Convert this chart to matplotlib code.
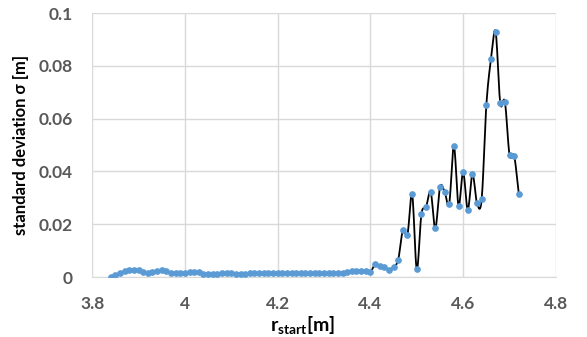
import numpy as np
import matplotlib
matplotlib.use("Agg")
import matplotlib.pyplot as plt

plt.rcParams['font.family'] = ['Lato', 'DejaVu Sans']
plt.rcParams['mathtext.fontset'] = 'custom'
plt.rcParams['mathtext.rm'] = 'Lato'
plt.rcParams['mathtext.bf'] = 'Lato:bold'

r_start = np.round(np.arange(3.84, 4.7201, 0.01), 2)

sigma = [
    0.0000, 0.0009, 0.0015, 0.0023, 0.0027, 0.0028, 0.0025, 0.0019, 0.0016, 0.0020,  # 3.84-3.93
    0.0024, 0.0025, 0.0022, 0.0016, 0.0014, 0.0014, 0.0015, 0.0018, 0.0020, 0.0018,  # 3.94-4.03
    0.0013, 0.0010, 0.0010, 0.0013, 0.0015, 0.0016, 0.0016, 0.0013, 0.0011, 0.0011,  # 4.04-4.13
    0.0014, 0.0014, 0.0014, 0.0014, 0.0014, 0.0015, 0.0016, 0.0016, 0.0016, 0.0016,  # 4.14-4.23
    0.0016, 0.0014, 0.0014, 0.0014, 0.0014, 0.0015, 0.0015, 0.0015, 0.0016, 0.0017,  # 4.24-4.33
    0.0017, 0.0018, 0.0024, 0.0024, 0.0023, 0.0022, 0.0018, 0.0048, 0.0042, 0.0037,  # 4.34-4.43
    0.0028, 0.0038, 0.0066, 0.0177, 0.0161, 0.0314, 0.0030, 0.0238, 0.0265, 0.0323,  # 4.44-4.53
    0.0184, 0.0341, 0.0324, 0.0278, 0.0498, 0.0271, 0.0397, 0.0255, 0.0390, 0.0279,  # 4.54-4.63
    0.0296, 0.0650, 0.0825, 0.0930, 0.0659, 0.0665, 0.0463, 0.0459, 0.0316,          # 4.64-4.72
]

x_ticks = [3.8, 4.0, 4.2, 4.4, 4.6, 4.8]
x_tick_labels = ['3.8', '4', '4.2', '4.4', '4.6', '4.8']
y_ticks = [0, 0.02, 0.04, 0.06, 0.08, 0.1]
y_tick_labels = ['0', '0.02', '0.04', '0.06', '0.08', '0.1']


def catmull_rom(x, y, n=12):
    x = np.asarray(x, float)
    y = np.asarray(y, float)
    px = np.concatenate([[2 * x[0] - x[1]], x, [2 * x[-1] - x[-2]]])
    py = np.concatenate([[2 * y[0] - y[1]], y, [2 * y[-1] - y[-2]]])
    xs, ys = [], []
    t = np.linspace(0, 1, n, endpoint=False)
    for i in range(1, len(px) - 2):
        p0, p1, p2, p3 = py[i - 1], py[i], py[i + 1], py[i + 2]
        q0, q1, q2, q3 = px[i - 1], px[i], px[i + 1], px[i + 2]
        t2, t3 = t * t, t * t * t
        ys.append(0.5 * ((2 * p1) + (-p0 + p2) * t + (2 * p0 - 5 * p1 + 4 * p2 - p3) * t2
                         + (-p0 + 3 * p1 - 3 * p2 + p3) * t3))
        xs.append(0.5 * ((2 * q1) + (-q0 + q2) * t + (2 * q0 - 5 * q1 + 4 * q2 - q3) * t2
                         + (-q0 + 3 * q1 - 3 * q2 + q3) * t3))
    xs.append([x[-1]])
    ys.append([y[-1]])
    return np.concatenate(xs), np.concatenate(ys)


fig = plt.figure(figsize=(5.87, 3.37), dpi=100)
ax = fig.add_axes([0.157, 0.178, 0.79, 0.783])

sx, sy = catmull_rom(r_start, sigma)
ax.plot(sx, sy, color='black', lw=1.3, zorder=2)
ax.plot(r_start, sigma, linestyle='none', marker='o', ms=3.8,
        color='#5B9BD5', zorder=3)

ax.set_xlim(3.8, 4.8)
ax.set_ylim(0, 0.1)
ax.set_xticks(x_ticks)
ax.set_xticklabels(x_tick_labels)
ax.set_yticks(y_ticks)
ax.set_yticklabels(y_tick_labels)
ax.tick_params(length=0, labelsize=12.5, labelcolor='#595959')
ax.tick_params(axis='x', pad=14)
ax.tick_params(axis='y', pad=14)
for lab in ax.get_xticklabels() + ax.get_yticklabels():
    lab.set_fontweight('bold')

ax.grid(True, color='#D9D9D9', lw=1.0, zorder=0)
ax.set_axisbelow(True)
for s in ['top', 'right', 'left']:
    ax.spines[s].set_visible(False)
ax.spines['bottom'].set_color('#D9D9D9')

ax.set_xlabel(r'$\mathbf{r_{start}}$[m]', fontsize=14, fontweight='bold')
ax.xaxis.set_label_coords((302 - 92) / 464, -0.14)
ax.set_ylabel('standard deviation σ [m]', fontsize=12, fontweight='bold', labelpad=7)

fig.savefig('out.png', dpi=100)
